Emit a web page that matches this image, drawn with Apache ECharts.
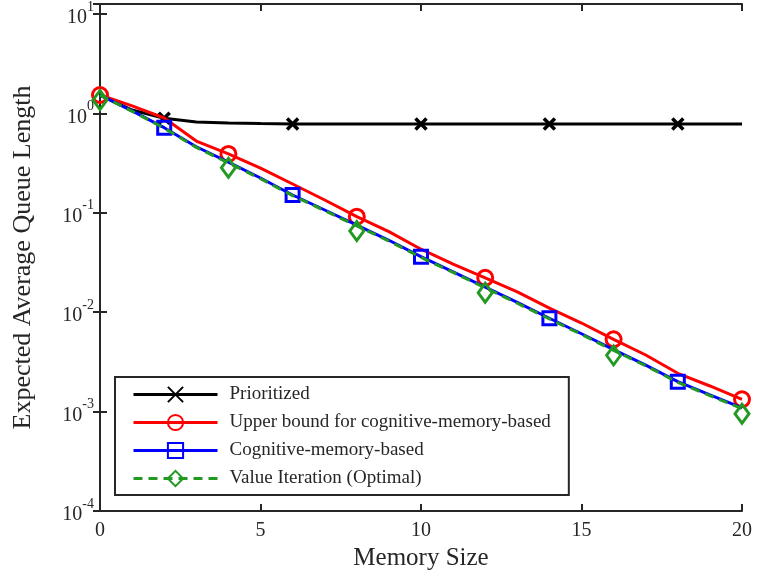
<!DOCTYPE html>
<html><head><meta charset="utf-8">
<script src="https://cdn.jsdelivr.net/npm/echarts@6/dist/echarts.min.js"></script>
<style>html,body{margin:0;padding:0;background:#fff}#c{width:757px;height:579px}</style>
</head><body><div id="c"></div>
<script>
const memorySize = [0,1,2,3,4,5,6,7,8,9,10,11,12,13,14,15,16,17,18,19,20];
const prioritized = [1.53,1.08,0.893,0.819,0.80,0.79,0.782,0.782,0.782,0.782,0.782,0.782,0.782,0.782,0.782,0.782,0.782,0.782,0.782,0.782,0.782];
const upperBound = [1.53,1.19,0.899,0.527,0.391,0.282,0.195,0.1345,0.0914,0.0646,0.0430,0.0305,0.0222,0.0160,0.0110,0.00778,0.00533,0.00371,0.00243,0.00181,0.00133];
const cognitive = [1.53,1.06,0.718,0.462,0.323,0.224,0.151,0.1067,0.0750,0.0529,0.0362,0.0255,0.0179,0.01253,0.00869,0.00607,0.00420,0.00294,0.00200,0.00147,0.00109];
const valueIteration = [1.53,1.05,0.71,0.455,0.318,0.220,0.149,0.105,0.0738,0.052,0.0356,0.0251,0.0176,0.0123,0.00855,0.00597,0.00413,0.00289,0.00197,0.00145,0.00107];
const prioritizedMarks = [2,6,10,14,18];
const upperMarks = [0,4,8,12,16,20];
const cognitiveMarks = [2,6,10,14,18];
const viMarks = [0,4,8,12,16,20];
const names = ['Prioritized','Upper bound for cognitive-memory-based','Cognitive-memory-based','Value Iteration (Optimal)'];
const xTicks = [0,5,10,15,20];

const FONT = 'Liberation Serif';
const TXT = '#262626';
const GREEN = '#229a22';

function build(vals, marks, extra) {
  return memorySize.map((x, i) => {
    if (marks.includes(x)) return Object.assign({value: [x, vals[i]]}, extra || {});
    return {value: [x, vals[i]], symbol: 'none'};
  });
}

const yMin = 1e-4, yMax = Math.pow(10, 1.1);
function yLab(v) {
  const l = Math.log10(v); const e = Math.round(l);
  if (Math.abs(l - e) > 1e-6) return '';
  return '{b|10}{s|' + e + '}';
}

const chart = echarts.init(document.getElementById('c'), null, {renderer: 'canvas'});
chart.setOption({
  animation: false,
  backgroundColor: '#fff',
  textStyle: {fontFamily: FONT},
  grid: {left: 100, right: 15, top: 4, bottom: 68},
  xAxis: [{
    type: 'value', min: 0, max: 20, interval: 5, position: 'bottom',
    name: 'Memory Size', nameLocation: 'middle', nameGap: 35,
    nameTextStyle: {fontFamily: FONT, fontSize: 25, color: TXT},
    axisLine: {lineStyle: {color: TXT, width: 2}},
    axisTick: {inside: true, length: 7, lineStyle: {color: TXT, width: 2}},
    axisLabel: {fontFamily: FONT, fontSize: 20, color: TXT, margin: 10, formatter: v => xTicks.includes(v) ? String(v) : ''},
    splitLine: {show: false}
  }, {
    type: 'value', min: 0, max: 20, interval: 5, position: 'top',
    axisLine: {lineStyle: {color: TXT, width: 2}},
    axisTick: {inside: true, length: 7, lineStyle: {color: TXT, width: 2}},
    axisLabel: {show: false}, splitLine: {show: false}
  }],
  yAxis: [{
    type: 'log', logBase: 10, min: yMin, max: yMax, interval: 1, position: 'left',
    name: 'Expected Average Queue Length', nameLocation: 'middle', nameGap: 64,
    nameTextStyle: {fontFamily: FONT, fontSize: 26, color: TXT},
    axisLine: {lineStyle: {color: TXT, width: 2}},
    axisTick: {inside: true, length: 7, lineStyle: {color: TXT, width: 2}},
    axisLabel: {
      formatter: yLab, margin: 6, color: TXT, showMaxLabel: false,
      rich: {
        b: {fontFamily: FONT, fontSize: 20, color: TXT, lineHeight: 28, verticalAlign: 'bottom'},
        s: {fontFamily: FONT, fontSize: 14, color: TXT, lineHeight: 28, verticalAlign: 'top'}
      }
    },
    minorTick: {show: false}, splitLine: {show: false}
  }, {
    type: 'log', logBase: 10, min: yMin, max: yMax, interval: 1, position: 'right',
    axisLine: {lineStyle: {color: TXT, width: 2}},
    axisTick: {inside: true, length: 7, lineStyle: {color: TXT, width: 2}},
    axisLabel: {show: false}, splitLine: {show: false}
  }],
  legend: {
    orient: 'vertical', left: 115, top: 377,
    data: names,
    backgroundColor: '#fff', borderColor: TXT, borderWidth: 2, borderRadius: 0,
    padding: [8, 18, 7, 17],
    itemWidth: 84, itemHeight: 19, itemGap: 9,
    lineStyle: {width: 3},
    textStyle: {fontFamily: FONT, fontSize: 19, color: TXT, padding: [0, 0, 0, 7]}
  },
  series: [{
    name: names[0], type: 'line', xAxisIndex: 0, yAxisIndex: 0,
    data: build(prioritized, prioritizedMarks),
    symbol: 'path://M0,0L10,10M10,0L0,10', symbolSize: 11,
    lineStyle: {color: '#000', width: 3},
    itemStyle: {color: '#000', borderColor: '#000', borderWidth: 3.5},
    z: 2
  }, {
    name: names[1], type: 'line',
    data: build(upperBound, upperMarks),
    symbol: 'circle', symbolSize: 15,
    lineStyle: {color: '#ff0000', width: 3},
    itemStyle: {color: 'rgba(255,255,255,0)', borderColor: '#ff0000', borderWidth: 3},
    z: 3
  }, {
    name: names[2], type: 'line',
    data: build(cognitive, cognitiveMarks),
    symbol: 'rect', symbolSize: 13,
    lineStyle: {color: '#0000ff', width: 3},
    itemStyle: {color: 'rgba(255,255,255,0)', borderColor: '#0000ff', borderWidth: 3},
    z: 4
  }, {
    name: names[3], type: 'line',
    data: build(valueIteration, viMarks, {symbolOffset: [0, 5]}),
    symbol: 'diamond', symbolSize: [14, 19],
    lineStyle: {color: GREEN, width: 3, type: [9, 6]},
    itemStyle: {color: 'rgba(255,255,255,0)', borderColor: GREEN, borderWidth: 3},
    z: 5
  }]
});
</script>
</body></html>
